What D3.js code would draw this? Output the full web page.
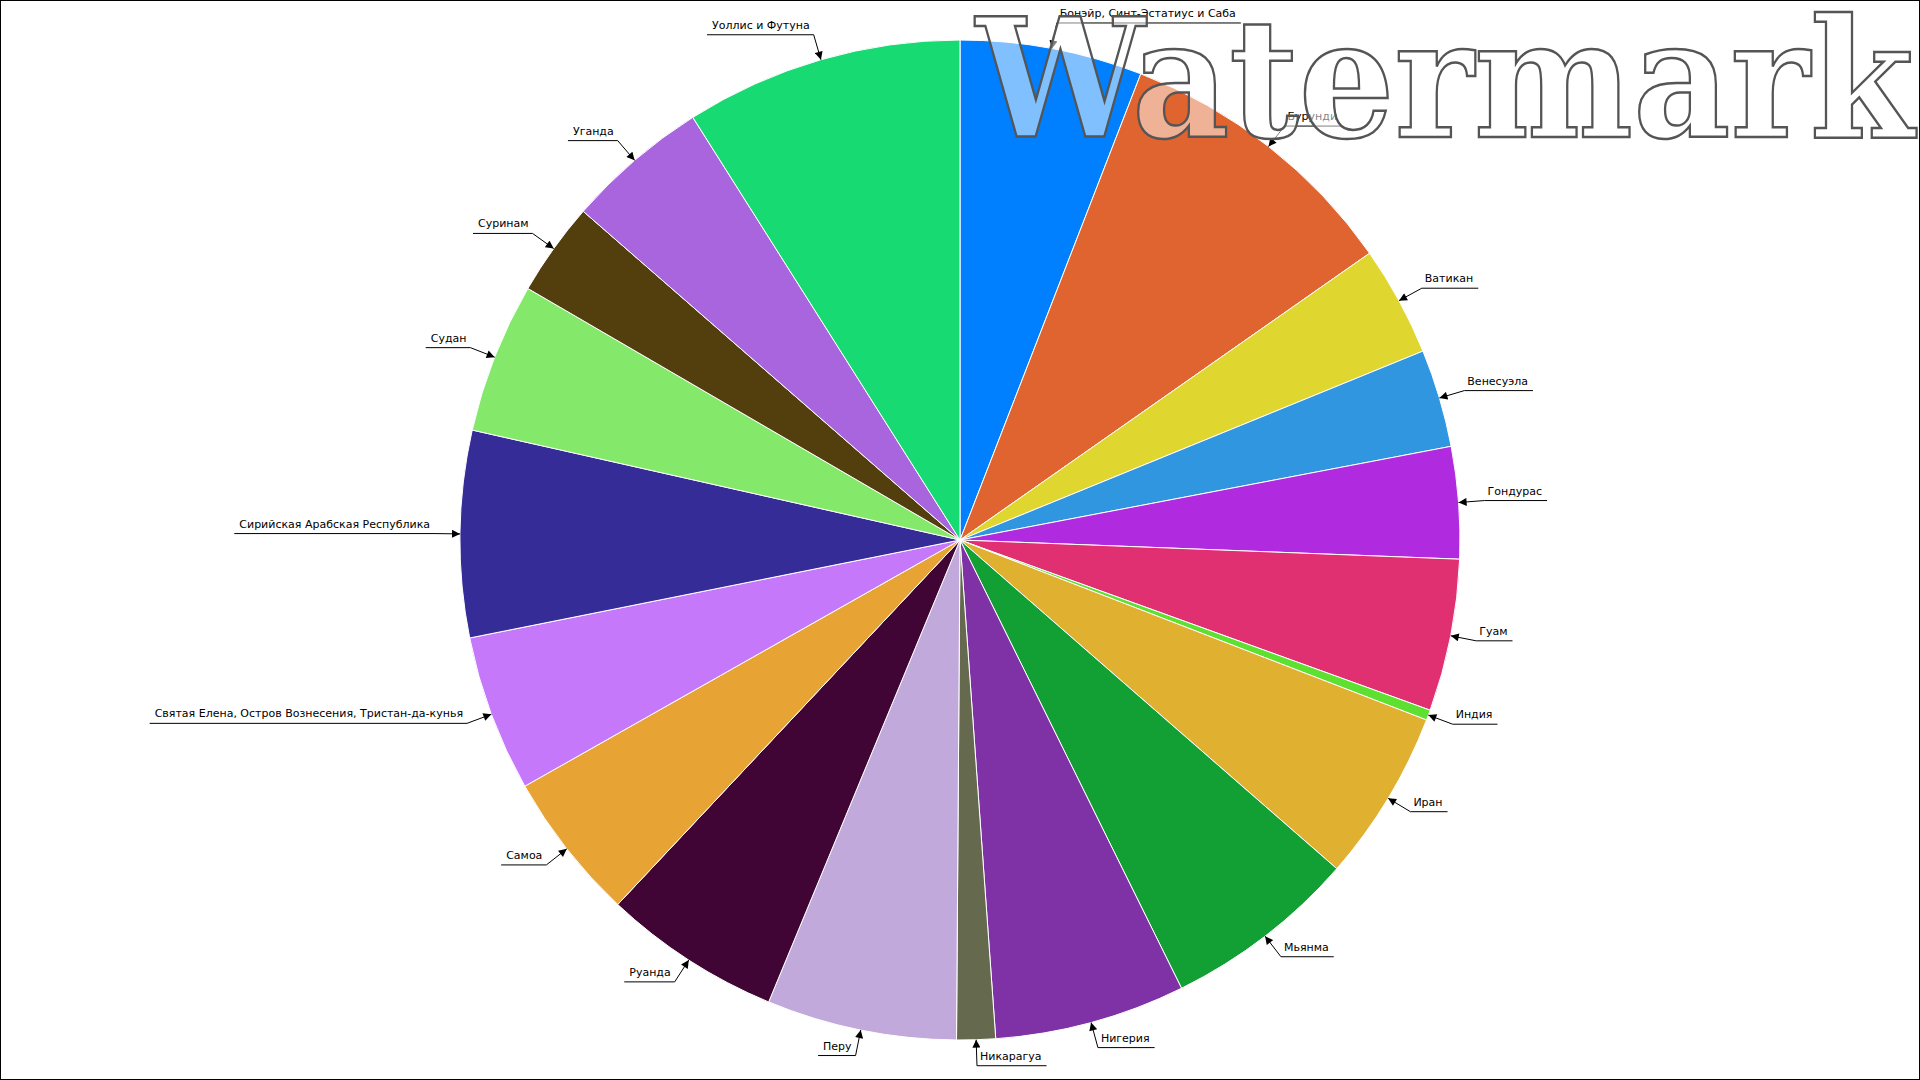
<!DOCTYPE html>
<html>
<head>
<meta charset="utf-8">
<script src="https://cdn.jsdelivr.net/npm/d3@7"></script>
<style>
  body { margin: 0; background: #fff; }
  .chart { width: 1920px; height: 1080px; }
</style>
</head>
<body>
<div class="chart"></div>
<script>
// pie data (clockwise from 12 o'clock)
const countries = ['Бонэйр, Синт-Эстатиус и Саба', 'Бурунди', 'Ватикан', 'Венесуэла', 'Гондурас',
  'Гуам', 'Индия', 'Иран', 'Мьянма', 'Нигерия', 'Никарагуа', 'Перу', 'Руанда', 'Самоа',
  'Святая Елена, Остров Вознесения, Тристан-да-кунья', 'Сирийская Арабская Республика',
  'Судан', 'Суринам', 'Уганда', 'Уоллис и Футуна'];
const values = [21.2, 33.8, 12.8, 11.4, 13.0, 17.7, 1.2, 20.0, 22.6, 22.2,
  4.5, 22.1, 20.7, 17.3, 18.2, 24.0, 17.5, 10.9, 16.6, 32.3];
const colors = ['#0080ff', '#e0642f', '#e0d630', '#3096e0', '#b02be0', '#e03072', '#5ee030',
  '#e0b030', '#12a035', '#7f32a6', '#656a4f', '#c2a9db', '#400535', '#e8a335', '#c678fa',
  '#352c98', '#84e96a', '#533f0e', '#a865de', '#18da72'];

const width = 1920, height = 1080;
const cx = 960, cy = 540, radius = 500;

const svg = d3.select('.chart').append('svg')
  .attr('width', width)
  .attr('height', height);

svg.append('defs').append('marker')
  .attr('id', 'arrow')
  .attr('viewBox', '0 0 10 10')
  .attr('refX', 10)
  .attr('refY', 5)
  .attr('markerWidth', 9)
  .attr('markerHeight', 8)
  .attr('markerUnits', 'userSpaceOnUse')
  .attr('orient', 'auto')
  .append('path')
  .attr('d', 'M0,0L10,5L0,10Z')
  .attr('fill', '#000');

const g = svg.append('g').attr('transform', `translate(${cx},${cy})`);

const pie = d3.pie().sort(null).value(d => d);
const arcs = pie(values);
const arc = d3.arc().innerRadius(0).outerRadius(radius);

g.selectAll('path.slice')
  .data(arcs)
  .enter().append('path')
  .attr('class', 'slice')
  .attr('d', arc)
  .attr('fill', (d, i) => colors[i])
  .attr('stroke', '#fff')
  .attr('stroke-width', 1);

// labels with elbow lines and arrows
const pt = (a, r) => [r * Math.sin(a), -r * Math.cos(a)];

arcs.forEach((d, i) => {
  const a = (d.startAngle + d.endAngle) / 2;
  const tip = pt(a, radius);
  const elbow = pt(a, radius + 26);
  const right = a < Math.PI;

  const txt = g.append('text')
    .attr('font-family', 'DejaVu Sans, sans-serif')
    .attr('font-size', 11)
    .attr('fill', '#000')
    .text(countries[i]);
  const w = txt.node().getComputedTextLength();

  let lineEnd;
  if (right) {
    txt.attr('x', elbow[0] + 3).attr('y', elbow[1] - 6);
    lineEnd = elbow[0] + w + 8;
  } else {
    txt.attr('x', elbow[0] - 4 - w).attr('y', elbow[1] - 6);
    lineEnd = elbow[0] - w - 9;
  }

  g.append('path')
    .attr('d', `M${lineEnd},${elbow[1]}L${elbow[0]},${elbow[1]}L${tip[0]},${tip[1]}`)
    .attr('fill', 'none')
    .attr('stroke', '#000')
    .attr('stroke-width', 1)
    .attr('marker-end', 'url(#arrow)');
});

// watermark
svg.append('text')
  .attr('x', 976)
  .attr('y', 137)
  .attr('textLength', 938)
  .attr('lengthAdjust', 'spacingAndGlyphs')
  .attr('font-family', 'DejaVu Serif, serif')
  .attr('font-weight', 'bold')
  .attr('font-size', 165)
  .attr('fill', 'rgba(255,255,255,0.5)')
  .attr('stroke', '#555')
  .attr('stroke-width', 2.5)
  .text('Watermark');

// frame
svg.append('rect')
  .attr('x', 0.5)
  .attr('y', 0.5)
  .attr('width', width - 1)
  .attr('height', height - 1)
  .attr('fill', 'none')
  .attr('stroke', '#000')
  .attr('stroke-width', 1);
</script>
</body>
</html>
